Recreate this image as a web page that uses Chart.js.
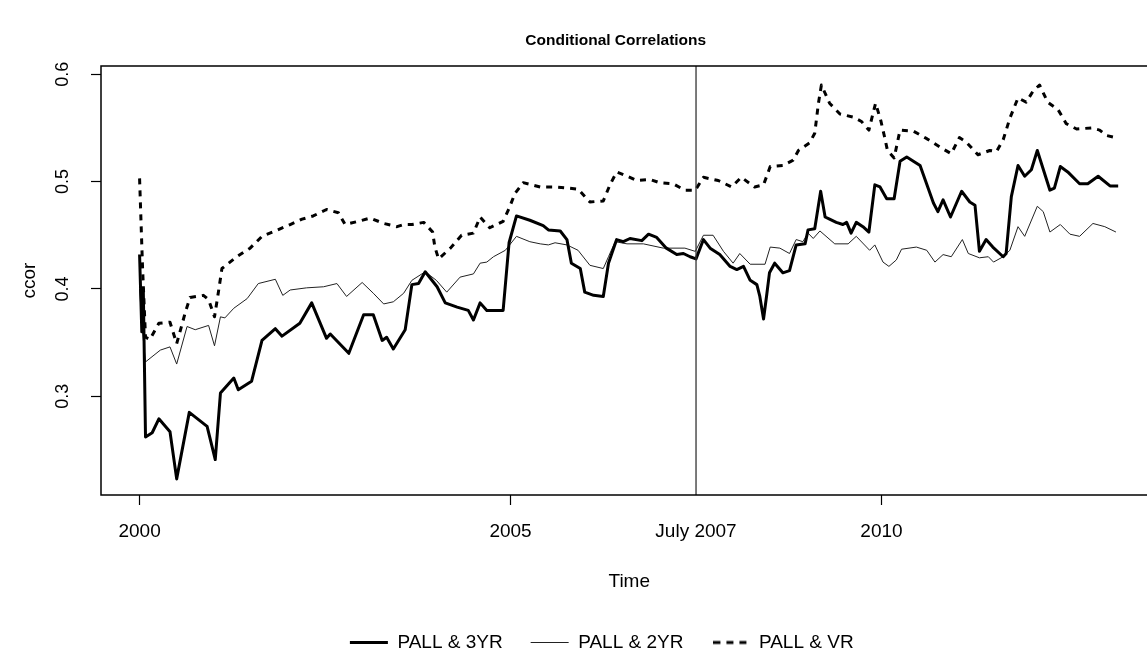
<!DOCTYPE html>
<html lang="en">
<head>
    <meta charset="UTF-8">
    <title>Conditional Correlations</title>
    <script src="https://cdn.jsdelivr.net/npm/chart.js"></script>
    <style>
        html, body { margin: 0; padding: 0; background: #fff; overflow: hidden; }
        #chart { display: block; }
    </style>
</head>
<body>
    <canvas id="chart" width="1170" height="657"></canvas>

    <script>
        // PALL & 3YR (thick solid)
        const t3yr = [2000.00, 2000.03, 2000.05, 2000.08, 2000.17, 2000.26, 2000.41, 2000.50, 2000.67, 2000.91,
            2001.02, 2001.09, 2001.27, 2001.33, 2001.51, 2001.65, 2001.83, 2001.92, 2002.16, 2002.32,
            2002.52, 2002.57, 2002.82, 2003.02, 2003.15, 2003.27, 2003.33, 2003.42, 2003.58, 2003.67,
            2003.76, 2003.85, 2004.01, 2004.12, 2004.28, 2004.43, 2004.50, 2004.59, 2004.68, 2004.90,
            2004.98, 2005.08, 2005.26, 2005.44, 2005.51, 2005.67, 2005.76, 2005.82, 2005.94, 2006.00,
            2006.12, 2006.25, 2006.32, 2006.43, 2006.52, 2006.61, 2006.77, 2006.86, 2006.97, 2007.10,
            2007.24, 2007.33, 2007.42, 2007.50, 2007.60, 2007.69, 2007.82, 2007.96, 2008.05, 2008.14,
            2008.23, 2008.32, 2008.36, 2008.41, 2008.45, 2008.49, 2008.56, 2008.67, 2008.76, 2008.85,
            2008.97, 2009.01, 2009.10, 2009.18, 2009.24, 2009.30, 2009.39, 2009.48, 2009.53, 2009.59,
            2009.66, 2009.75, 2009.83, 2009.91, 2009.98, 2010.07, 2010.17, 2010.25, 2010.34, 2010.52,
            2010.70, 2010.76, 2010.83, 2010.93, 2011.08, 2011.19, 2011.26, 2011.32, 2011.41, 2011.50,
            2011.64, 2011.68, 2011.75, 2011.84, 2011.93, 2012.02, 2012.10, 2012.27, 2012.33, 2012.41,
            2012.51, 2012.67, 2012.78, 2012.92, 2013.08, 2013.19];
        const v3yr = [0.432, 0.360, 0.400, 0.262, 0.266, 0.279, 0.267, 0.223, 0.285, 0.272,
            0.241, 0.303, 0.317, 0.306, 0.314, 0.352, 0.363, 0.356, 0.368, 0.387,
            0.354, 0.358, 0.340, 0.376, 0.376, 0.352, 0.355, 0.344, 0.362, 0.404,
            0.405, 0.416, 0.402, 0.387, 0.383, 0.380, 0.371, 0.387, 0.380, 0.380,
            0.443, 0.468, 0.464, 0.459, 0.455, 0.454, 0.446, 0.424, 0.419, 0.397,
            0.394, 0.393, 0.424, 0.446, 0.444, 0.447, 0.445, 0.451, 0.448, 0.438,
            0.432, 0.433, 0.430, 0.428, 0.446, 0.438, 0.432, 0.421, 0.418, 0.421,
            0.408, 0.404, 0.393, 0.372, 0.393, 0.415, 0.424, 0.415, 0.417, 0.441,
            0.442, 0.455, 0.456, 0.491, 0.467, 0.465, 0.462, 0.460, 0.462, 0.452,
            0.462, 0.458, 0.453, 0.497, 0.495, 0.484, 0.484, 0.519, 0.523, 0.515,
            0.480, 0.472, 0.483, 0.467, 0.491, 0.481, 0.478, 0.435, 0.446, 0.439,
            0.430, 0.433, 0.486, 0.515, 0.505, 0.511, 0.529, 0.492, 0.494, 0.514,
            0.509, 0.498, 0.498, 0.505, 0.496, 0.496];

        // PALL & 2YR (thin solid)
        const t2yr = [2000.00, 2000.04, 2000.08, 2000.28, 2000.41, 2000.50, 2000.64, 2000.75, 2000.93, 2001.01,
            2001.09, 2001.15, 2001.27, 2001.45, 2001.60, 2001.83, 2001.93, 2002.03, 2002.25, 2002.48,
            2002.66, 2002.79, 2003.00, 2003.15, 2003.29, 2003.42, 2003.56, 2003.67, 2003.85, 2004.00,
            2004.14, 2004.32, 2004.50, 2004.59, 2004.68, 2004.77, 2004.93, 2005.08, 2005.26, 2005.40,
            2005.51, 2005.60, 2005.76, 2005.91, 2006.07, 2006.25, 2006.32, 2006.41, 2006.57, 2006.79,
            2007.06, 2007.35, 2007.49, 2007.60, 2007.73, 2007.87, 2008.00, 2008.09, 2008.23, 2008.43,
            2008.50, 2008.63, 2008.76, 2008.85, 2008.94, 2009.01, 2009.08, 2009.17, 2009.37, 2009.55,
            2009.66, 2009.84, 2009.91, 2010.02, 2010.10, 2010.20, 2010.27, 2010.47, 2010.61, 2010.72,
            2010.83, 2010.94, 2011.09, 2011.17, 2011.32, 2011.44, 2011.51, 2011.64, 2011.73, 2011.84,
            2011.93, 2012.10, 2012.18, 2012.27, 2012.41, 2012.54, 2012.67, 2012.85, 2013.01, 2013.16];
        const v2yr = [0.400, 0.360, 0.332, 0.343, 0.346, 0.330, 0.365, 0.362, 0.366, 0.347,
            0.374, 0.373, 0.382, 0.391, 0.405, 0.409, 0.394, 0.399, 0.401, 0.402,
            0.405, 0.393, 0.406, 0.396, 0.386, 0.388, 0.396, 0.408, 0.416, 0.408,
            0.397, 0.411, 0.414, 0.424, 0.425, 0.430, 0.436, 0.449, 0.444, 0.442,
            0.441, 0.443, 0.441, 0.436, 0.422, 0.419, 0.430, 0.444, 0.442, 0.442,
            0.438, 0.438, 0.435, 0.450, 0.450, 0.435, 0.424, 0.433, 0.423, 0.423,
            0.439, 0.438, 0.433, 0.446, 0.444, 0.452, 0.447, 0.454, 0.442, 0.442,
            0.449, 0.436, 0.441, 0.425, 0.421, 0.427, 0.437, 0.439, 0.436, 0.425,
            0.432, 0.430, 0.446, 0.433, 0.429, 0.430, 0.425, 0.430, 0.436, 0.458,
            0.449, 0.477, 0.472, 0.453, 0.460, 0.451, 0.449, 0.461, 0.458, 0.453];

        // PALL & VR (dashed)
        const tvr = [2000.00, 2000.04, 2000.08, 2000.14, 2000.26, 2000.41, 2000.50, 2000.62, 2000.68, 2000.86,
            2000.93, 2001.01, 2001.06, 2001.11, 2001.31, 2001.49, 2001.65, 2001.83, 2002.03, 2002.19,
            2002.34, 2002.52, 2002.68, 2002.77, 2002.95, 2003.11, 2003.29, 2003.47, 2003.56, 2003.67,
            2003.83, 2003.95, 2003.98, 2004.03, 2004.19, 2004.34, 2004.50, 2004.59, 2004.72, 2004.90,
            2004.98, 2005.06, 2005.17, 2005.40, 2005.60, 2005.78, 2005.91, 2006.07, 2006.25, 2006.34,
            2006.43, 2006.54, 2006.70, 2006.88, 2007.01, 2007.19, 2007.35, 2007.49, 2007.60, 2007.80,
            2007.98, 2008.11, 2008.29, 2008.41, 2008.50, 2008.67, 2008.81, 2008.88, 2009.03, 2009.10,
            2009.15, 2009.19, 2009.30, 2009.44, 2009.62, 2009.73, 2009.83, 2009.88, 2009.92, 2009.99,
            2010.04, 2010.08, 2010.17, 2010.25, 2010.43, 2010.61, 2010.79, 2010.94, 2011.05, 2011.14,
            2011.30, 2011.46, 2011.55, 2011.64, 2011.73, 2011.84, 2011.95, 2012.04, 2012.13, 2012.24,
            2012.38, 2012.49, 2012.63, 2012.83, 2012.94, 2013.03, 2013.16];
        const vvr = [0.503, 0.420, 0.355, 0.353, 0.368, 0.369, 0.349, 0.379, 0.392, 0.394,
            0.390, 0.374, 0.396, 0.419, 0.430, 0.438, 0.449, 0.454, 0.460, 0.465,
            0.468, 0.474, 0.471, 0.460, 0.463, 0.466, 0.461, 0.458, 0.460, 0.460,
            0.462, 0.453, 0.439, 0.428, 0.438, 0.450, 0.452, 0.467, 0.457, 0.463,
            0.475, 0.489, 0.499, 0.495, 0.495, 0.494, 0.493, 0.481, 0.482, 0.497,
            0.509, 0.506, 0.501, 0.502, 0.499, 0.498, 0.492, 0.492, 0.504, 0.501,
            0.495, 0.504, 0.495, 0.497, 0.514, 0.515, 0.520, 0.529, 0.536, 0.545,
            0.573, 0.590, 0.573, 0.563, 0.560, 0.556, 0.548, 0.562, 0.573, 0.557,
            0.542, 0.529, 0.522, 0.548, 0.547, 0.540, 0.532, 0.526, 0.541, 0.537,
            0.525, 0.529, 0.528, 0.539, 0.559, 0.578, 0.574, 0.584, 0.590, 0.574,
            0.567, 0.554, 0.549, 0.550, 0.548, 0.543, 0.541];

        const seriesNames = ['PALL & 3YR', 'PALL & 2YR', 'PALL & VR'];
        const xTickVals = [2000, 2005, 2007.5, 2010];
        const xTickLabels = ['2000', '2005', 'July 2007', '2010'];
        const yTickVals = [0.3, 0.4, 0.5, 0.6];
        const yTickLabels = ['0.3', '0.4', '0.5', '0.6'];
        const markerTime = 2007.5;

        function toPoints(ts, vs) {
            return ts.map((t, i) => ({x: t, y: vs[i]}));
        }

        // legend sample for the dashed series (the built-in 'line' point style ignores the dash)
        function dashedSample() {
            const c = document.createElement('canvas');
            c.width = 34;
            c.height = 6;
            const g = c.getContext('2d');
            g.strokeStyle = '#000';
            g.lineWidth = 3;
            g.setLineDash([7, 6]);
            g.beginPath();
            g.moveTo(0, 3);
            g.lineTo(34, 3);
            g.stroke();
            return c;
        }

        Chart.defaults.font.family = "'Liberation Sans', Arial, sans-serif";
        Chart.defaults.color = '#000';

        // frame, July 2007 line, and nudges of title / legend to match R's placement
        const framePlugin = {
            id: 'frame',
            afterLayout(chart) {
                const dx = 37;
                chart.titleBlock.left += dx;
                chart.titleBlock.right += dx;
                chart.legend.left += 23;
                chart.legend.right += 23;
                chart.legend.top += 5;
                chart.legend.bottom += 5;
            },
            afterDatasetsDraw(chart) {
                const {ctx, chartArea: a, scales: {x}} = chart;
                ctx.save();
                const px = x.getPixelForValue(markerTime);
                ctx.strokeStyle = '#333';
                ctx.lineWidth = 1.3;
                ctx.beginPath();
                ctx.moveTo(px, a.top);
                ctx.lineTo(px, a.bottom);
                ctx.stroke();
                ctx.strokeStyle = '#000';
                ctx.lineWidth = 1.5;
                ctx.strokeRect(a.left, a.top, a.right - a.left, a.bottom - a.top);
                ctx.restore();
            }
        };

        const ctx = document.getElementById('chart').getContext('2d');
        new Chart(ctx, {
            type: 'line',
            data: {
                datasets: [{
                    label: seriesNames[0],
                    data: toPoints(t3yr, v3yr),
                    borderColor: '#000',
                    borderWidth: 3,
                    pointStyle: 'line'
                }, {
                    label: seriesNames[1],
                    data: toPoints(t2yr, v2yr),
                    borderColor: '#222',
                    borderWidth: 1,
                    pointStyle: 'line'
                }, {
                    label: seriesNames[2],
                    data: toPoints(tvr, vvr),
                    borderColor: '#000',
                    borderWidth: 3,
                    borderDash: [6, 6],
                    pointStyle: dashedSample()
                }]
            },
            options: {
                responsive: false,
                animation: false,
                devicePixelRatio: 1,
                layout: { padding: { left: 0, right: 12.5, top: 0, bottom: 0 } },
                elements: {
                    point: { radius: 0 },
                    line: { tension: 0, borderJoinStyle: 'round', fill: false }
                },
                plugins: {
                    title: {
                        display: true,
                        text: 'Conditional Correlations',
                        color: '#000',
                        font: { size: 15.5, weight: 'bold' },
                        padding: { top: 31, bottom: 16.4 }
                    },
                    legend: {
                        display: true,
                        position: 'bottom',
                        labels: {
                            usePointStyle: true,
                            pointStyleWidth: 38,
                            padding: 28,
                            color: '#000',
                            font: { size: 19 }
                        }
                    },
                    tooltip: { enabled: false }
                },
                scales: {
                    x: {
                        type: 'linear',
                        min: 1999.48,
                        max: 2013.72,
                        afterBuildTicks: (scale) => {
                            scale.ticks = xTickVals.map(v => ({value: v}));
                        },
                        afterFit: (scale) => { scale.height = 105; },
                        ticks: {
                            autoSkip: false,
                            maxRotation: 0,
                            padding: 15.6,
                            font: { size: 19 },
                            callback: (v, i) => xTickLabels[i]
                        },
                        grid: {
                            drawOnChartArea: false,
                            drawTicks: true,
                            tickLength: 10,
                            tickColor: (c) => (c.tick && c.tick.value === markerTime) ? 'rgba(0,0,0,0)' : '#000',
                            tickWidth: 1.2
                        },
                        border: { display: false },
                        title: {
                            display: true,
                            text: 'Time',
                            font: { size: 19 },
                            padding: { top: 0, bottom: 6.6 }
                        }
                    },
                    y: {
                        type: 'linear',
                        min: 0.208,
                        max: 0.6077,
                        afterBuildTicks: (scale) => {
                            scale.ticks = yTickVals.map(v => ({value: v}));
                        },
                        afterFit: (scale) => { scale.width = 101; },
                        ticks: {
                            minRotation: 90,
                            maxRotation: 90,
                            crossAlign: 'center',
                            padding: 15.5,
                            font: { size: 18 },
                            callback: (v, i) => yTickLabels[i]
                        },
                        grid: {
                            drawOnChartArea: false,
                            drawTicks: true,
                            tickLength: 10,
                            tickColor: '#000',
                            tickWidth: 1.2
                        },
                        border: { display: false },
                        title: {
                            display: true,
                            text: 'ccor',
                            font: { size: 19 },
                            padding: { top: 18.6, bottom: 0 }
                        }
                    }
                }
            },
            plugins: [framePlugin]
        });
    </script>
</body>
</html>
